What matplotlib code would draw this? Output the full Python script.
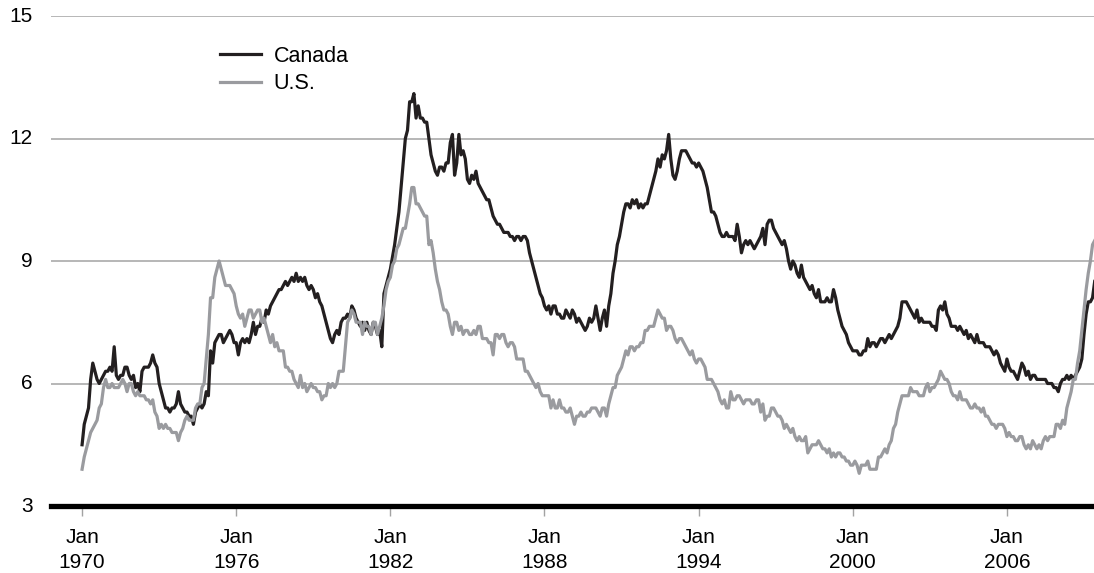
import matplotlib
matplotlib.use("Agg")
import matplotlib.pyplot as plt

plt.rcParams["font.family"] = ["Liberation Sans", "DejaVu Sans"]

# monthly unemployment rate (%), Jan 1970 - Jun 2009
canada = [
    4.5, 5.0, 5.2, 5.4, 6.1, 6.5, 6.3, 6.1, 6.0, 6.1, 6.2, 6.3,  # 1970
    6.3, 6.4, 6.3, 6.9, 6.2, 6.1, 6.2, 6.2, 6.4, 6.4, 6.2, 6.1,  # 1971
    6.2, 5.9, 6.0, 5.8, 6.3, 6.4, 6.4, 6.4, 6.5, 6.7, 6.5, 6.4,  # 1972
    6.0, 5.8, 5.6, 5.4, 5.4, 5.3, 5.4, 5.4, 5.5, 5.8, 5.5, 5.4,  # 1973
    5.3, 5.3, 5.2, 5.2, 5.0, 5.3, 5.4, 5.5, 5.4, 5.5, 5.8, 5.7,  # 1974
    6.8, 6.5, 7.0, 7.1, 7.2, 7.2, 7.0, 7.1, 7.2, 7.3, 7.2, 7.0,  # 1975
    7.0, 6.7, 7.0, 7.1, 7.0, 7.1, 7.0, 7.2, 7.5, 7.2, 7.4, 7.4,  # 1976
    7.6, 7.5, 7.8, 7.7, 7.9, 8.0, 8.1, 8.2, 8.3, 8.3, 8.4, 8.5,  # 1977
    8.4, 8.5, 8.6, 8.5, 8.7, 8.5, 8.6, 8.5, 8.6, 8.4, 8.3, 8.4,  # 1978
    8.3, 8.1, 8.2, 8.0, 7.9, 7.7, 7.5, 7.3, 7.1, 7.0, 7.2, 7.3,  # 1979
    7.2, 7.5, 7.6, 7.6, 7.7, 7.6, 7.9, 7.8, 7.6, 7.5, 7.4, 7.5,  # 1980
    7.3, 7.5, 7.3, 7.2, 7.5, 7.4, 7.2, 7.3, 6.9, 8.2, 8.4, 8.6,  # 1981
    8.8, 9.1, 9.4, 9.8, 10.2, 10.8, 11.4, 12.0, 12.2, 12.9, 12.9, 13.1,  # 1982
    12.5, 12.8, 12.5, 12.5, 12.4, 12.4, 12.0, 11.6, 11.4, 11.2, 11.1, 11.3,  # 1983
    11.3, 11.2, 11.4, 11.4, 11.9, 12.1, 11.1, 11.4, 12.1, 11.6, 11.7, 11.5,  # 1984
    11.0, 10.9, 11.1, 11.0, 11.2, 10.9, 10.8, 10.7, 10.6, 10.5, 10.5, 10.3,  # 1985
    10.1, 10.0, 9.9, 9.9, 9.8, 9.7, 9.7, 9.7, 9.6, 9.6, 9.5, 9.6,  # 1986
    9.6, 9.5, 9.6, 9.6, 9.5, 9.2, 9.0, 8.8, 8.6, 8.4, 8.2, 8.1,  # 1987
    7.9, 7.8, 7.9, 7.7, 7.9, 7.9, 7.7, 7.7, 7.6, 7.6, 7.8, 7.7,  # 1988
    7.6, 7.8, 7.7, 7.5, 7.6, 7.5, 7.4, 7.3, 7.4, 7.6, 7.5, 7.6,  # 1989
    7.9, 7.6, 7.3, 7.6, 7.8, 7.4, 7.9, 8.2, 8.7, 9.0, 9.4, 9.6,  # 1990
    9.9, 10.2, 10.4, 10.4, 10.3, 10.5, 10.4, 10.5, 10.3, 10.4, 10.3, 10.4,  # 1991
    10.4, 10.6, 10.8, 11.0, 11.2, 11.5, 11.3, 11.6, 11.5, 11.7, 12.1, 11.5,  # 1992
    11.1, 11.0, 11.2, 11.5, 11.7, 11.7, 11.7, 11.6, 11.5, 11.4, 11.4, 11.3,  # 1993
    11.4, 11.3, 11.2, 11.0, 10.8, 10.5, 10.2, 10.2, 10.1, 9.9, 9.7, 9.6,  # 1994
    9.6, 9.7, 9.6, 9.6, 9.6, 9.5, 9.9, 9.6, 9.2, 9.4, 9.5, 9.4,  # 1995
    9.5, 9.4, 9.3, 9.4, 9.5, 9.6, 9.8, 9.4, 9.9, 10.0, 10.0, 9.8,  # 1996
    9.7, 9.6, 9.5, 9.4, 9.5, 9.3, 9.0, 8.8, 9.0, 8.9, 8.7, 8.6,  # 1997
    8.9, 8.6, 8.5, 8.4, 8.3, 8.4, 8.2, 8.1, 8.3, 8.0, 8.0, 8.0,  # 1998
    8.1, 8.0, 8.0, 8.3, 8.1, 7.8, 7.6, 7.4, 7.3, 7.2, 7.0, 6.9,  # 1999
    6.8, 6.8, 6.8, 6.7, 6.7, 6.8, 6.8, 7.1, 6.9, 7.0, 7.0, 6.9,  # 2000
    7.0, 7.1, 7.1, 7.0, 7.1, 7.2, 7.1, 7.2, 7.3, 7.4, 7.6, 8.0,  # 2001
    8.0, 8.0, 7.9, 7.8, 7.7, 7.6, 7.8, 7.5, 7.6, 7.5, 7.5, 7.5,  # 2002
    7.5, 7.4, 7.4, 7.3, 7.8, 7.9, 7.8, 8.0, 7.7, 7.6, 7.4, 7.4,  # 2003
    7.4, 7.3, 7.4, 7.3, 7.2, 7.3, 7.1, 7.2, 7.1, 7.0, 7.2, 7.0,  # 2004
    7.0, 7.0, 6.9, 6.9, 6.9, 6.8, 6.7, 6.8, 6.7, 6.5, 6.4, 6.3,  # 2005
    6.6, 6.4, 6.3, 6.3, 6.2, 6.1, 6.3, 6.5, 6.4, 6.2, 6.3, 6.1,  # 2006
    6.2, 6.2, 6.1, 6.1, 6.1, 6.1, 6.1, 6.0, 6.0, 6.0, 5.9, 5.9,  # 2007
    5.8, 6.0, 6.1, 6.1, 6.2, 6.1, 6.2, 6.1, 6.2, 6.3, 6.4, 6.6,  # 2008
    7.2, 7.7, 8.0, 8.0, 8.1, 8.5,  # 2009
]

us = [
    3.9, 4.2, 4.4, 4.6, 4.8, 4.9, 5.0, 5.1, 5.4, 5.5, 5.9, 6.1,  # 1970
    5.9, 5.9, 6.0, 5.9, 5.9, 5.9, 6.0, 6.1, 6.0, 5.8, 6.0, 6.0,  # 1971
    5.8, 5.7, 5.8, 5.7, 5.7, 5.7, 5.6, 5.6, 5.5, 5.6, 5.3, 5.2,  # 1972
    4.9, 5.0, 4.9, 5.0, 4.9, 4.9, 4.8, 4.8, 4.8, 4.6, 4.8, 4.9,  # 1973
    5.1, 5.2, 5.1, 5.1, 5.1, 5.4, 5.5, 5.5, 5.9, 6.0, 6.6, 7.2,  # 1974
    8.1, 8.1, 8.6, 8.8, 9.0, 8.8, 8.6, 8.4, 8.4, 8.4, 8.3, 8.2,  # 1975
    7.9, 7.7, 7.6, 7.7, 7.4, 7.6, 7.8, 7.8, 7.6, 7.7, 7.8, 7.8,  # 1976
    7.5, 7.6, 7.4, 7.2, 7.0, 7.2, 6.9, 7.0, 6.8, 6.8, 6.8, 6.4,  # 1977
    6.4, 6.3, 6.3, 6.1, 6.0, 5.9, 6.2, 5.9, 6.0, 5.8, 5.9, 6.0,  # 1978
    5.9, 5.9, 5.8, 5.8, 5.6, 5.7, 5.7, 6.0, 5.9, 6.0, 5.9, 6.0,  # 1979
    6.3, 6.3, 6.3, 6.9, 7.5, 7.6, 7.8, 7.7, 7.5, 7.5, 7.5, 7.2,  # 1980
    7.5, 7.4, 7.4, 7.2, 7.5, 7.5, 7.2, 7.4, 7.6, 7.9, 8.3, 8.5,  # 1981
    8.6, 8.9, 9.0, 9.3, 9.4, 9.6, 9.8, 9.8, 10.1, 10.4, 10.8, 10.8,  # 1982
    10.4, 10.4, 10.3, 10.2, 10.1, 10.1, 9.4, 9.5, 9.2, 8.8, 8.5, 8.3,  # 1983
    8.0, 7.8, 7.8, 7.7, 7.4, 7.2, 7.5, 7.5, 7.3, 7.4, 7.2, 7.3,  # 1984
    7.3, 7.2, 7.2, 7.3, 7.2, 7.4, 7.4, 7.1, 7.1, 7.1, 7.0, 7.0,  # 1985
    6.7, 7.2, 7.2, 7.1, 7.2, 7.2, 7.0, 6.9, 7.0, 7.0, 6.9, 6.6,  # 1986
    6.6, 6.6, 6.6, 6.3, 6.3, 6.2, 6.1, 6.0, 5.9, 6.0, 5.8, 5.7,  # 1987
    5.7, 5.7, 5.7, 5.4, 5.6, 5.4, 5.4, 5.6, 5.4, 5.4, 5.3, 5.3,  # 1988
    5.4, 5.2, 5.0, 5.2, 5.2, 5.3, 5.2, 5.2, 5.3, 5.3, 5.4, 5.4,  # 1989
    5.4, 5.3, 5.2, 5.4, 5.4, 5.2, 5.5, 5.7, 5.9, 5.9, 6.2, 6.3,  # 1990
    6.4, 6.6, 6.8, 6.7, 6.9, 6.9, 6.8, 6.9, 6.9, 7.0, 7.0, 7.3,  # 1991
    7.3, 7.4, 7.4, 7.4, 7.6, 7.8, 7.7, 7.6, 7.6, 7.3, 7.4, 7.4,  # 1992
    7.3, 7.1, 7.0, 7.1, 7.1, 7.0, 6.9, 6.8, 6.7, 6.8, 6.6, 6.5,  # 1993
    6.6, 6.6, 6.5, 6.4, 6.1, 6.1, 6.1, 6.0, 5.9, 5.8, 5.6, 5.5,  # 1994
    5.6, 5.4, 5.4, 5.8, 5.6, 5.6, 5.7, 5.7, 5.6, 5.5, 5.6, 5.6,  # 1995
    5.6, 5.5, 5.5, 5.6, 5.6, 5.3, 5.5, 5.1, 5.2, 5.2, 5.4, 5.4,  # 1996
    5.3, 5.2, 5.2, 5.1, 4.9, 5.0, 4.9, 4.8, 4.9, 4.7, 4.6, 4.7,  # 1997
    4.6, 4.6, 4.7, 4.3, 4.4, 4.5, 4.5, 4.5, 4.6, 4.5, 4.4, 4.4,  # 1998
    4.3, 4.4, 4.2, 4.3, 4.2, 4.3, 4.3, 4.2, 4.2, 4.1, 4.1, 4.0,  # 1999
    4.0, 4.1, 4.0, 3.8, 4.0, 4.0, 4.0, 4.1, 3.9, 3.9, 3.9, 3.9,  # 2000
    4.2, 4.2, 4.3, 4.4, 4.3, 4.5, 4.6, 4.9, 5.0, 5.3, 5.5, 5.7,  # 2001
    5.7, 5.7, 5.7, 5.9, 5.8, 5.8, 5.8, 5.7, 5.7, 5.7, 5.9, 6.0,  # 2002
    5.8, 5.9, 5.9, 6.0, 6.1, 6.3, 6.2, 6.1, 6.1, 6.0, 5.8, 5.7,  # 2003
    5.7, 5.6, 5.8, 5.6, 5.6, 5.6, 5.5, 5.4, 5.4, 5.5, 5.4, 5.4,  # 2004
    5.3, 5.4, 5.2, 5.2, 5.1, 5.0, 5.0, 4.9, 5.0, 5.0, 5.0, 4.9,  # 2005
    4.7, 4.8, 4.7, 4.7, 4.6, 4.6, 4.7, 4.7, 4.5, 4.4, 4.5, 4.4,  # 2006
    4.6, 4.5, 4.4, 4.5, 4.4, 4.6, 4.7, 4.6, 4.7, 4.7, 4.7, 5.0,  # 2007
    5.0, 4.9, 5.1, 5.0, 5.4, 5.6, 5.8, 6.1, 6.1, 6.5, 6.8, 7.3,  # 2008
    7.8, 8.3, 8.7, 9.0, 9.4, 9.5,  # 2009
]

start_year = 1970
tick_years = [1970, 1976, 1982, 1988, 1994, 2000, 2006]
tick_labels = ["Jan\n%d" % y for y in tick_years]
y_ticks = [3, 6, 9, 12, 15]

months = [start_year + i / 12 for i in range(len(canada))]

fig = plt.figure(figsize=(10.94, 5.73), dpi=100)
ax = fig.add_axes([51 / 1094, 67 / 573, 1043 / 1094, 490 / 573])

ax.plot(months, canada, color="#231f20", lw=2.3, label="Canada", zorder=3)
ax.plot(months, us, color="#9a9b9f", lw=2.3, label="U.S.", zorder=3)

ax.set_xlim(1968.79, 2009.39)
ax.set_ylim(3, 15)
ax.set_yticks(y_ticks)
ax.set_yticklabels([str(v) for v in y_ticks])
ax.set_xticks(tick_years)
ax.set_xticklabels(tick_labels, linespacing=1.45)

ax.grid(axis="y", color="#a3a3a3", lw=1.1)
ax.grid(axis="x", visible=False)
ax.set_axisbelow(True)

for side in ["top", "right", "left"]:
    ax.spines[side].set_visible(False)
ax.spines["bottom"].set_linewidth(3.8)
ax.spines["bottom"].set_color("black")
ax.spines["bottom"].set_zorder(4)

ax.tick_params(axis="y", length=0, pad=13, labelsize=15)
ax.tick_params(axis="x", length=7.5, width=1, color="#a3a3a3", pad=8,
               labelsize=15)
for lab in ax.get_yticklabels():
    lab.set_verticalalignment("center")

ax.legend(loc="upper left", bbox_to_anchor=(0.162, 0.939), frameon=False,
          fontsize=15.5, handlelength=1.9, handletextpad=0.6,
          labelspacing=0.3, borderpad=0, borderaxespad=0)

fig.savefig("out.png", dpi=100)
